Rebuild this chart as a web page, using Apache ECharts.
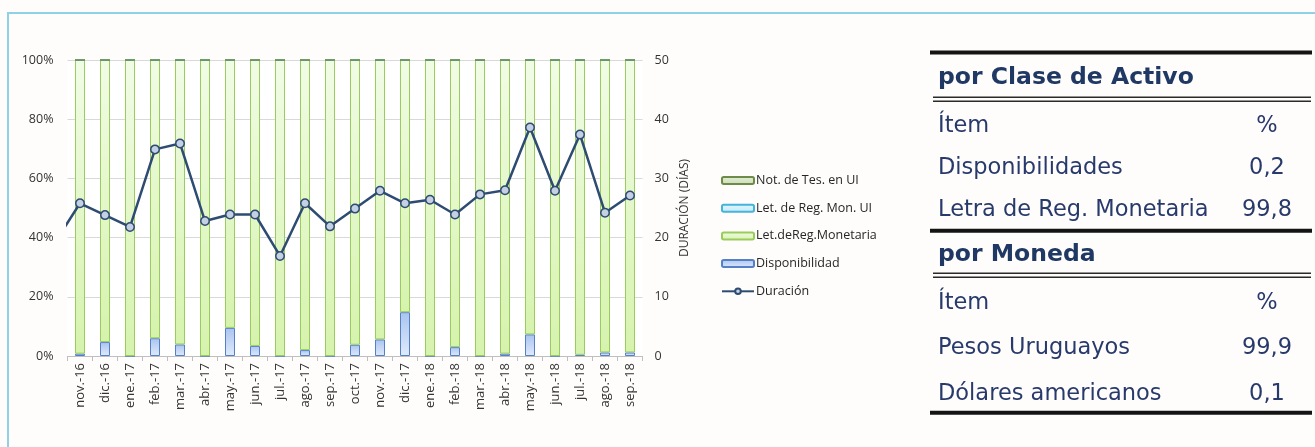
<!DOCTYPE html>
<html>
<head>
<meta charset="utf-8">
<script src="https://cdn.jsdelivr.net/npm/echarts@6/dist/echarts.min.js"></script>
<style>
  html, body { margin: 0; padding: 0; background: #fefdfb; }
  #chart { width: 1315px; height: 447px; }
</style>
</head>
<body>
<div id="chart"></div>
<script>
// Months shown on the category axis
const months = ['nov.-16','dic.-16','ene.-17','feb.-17','mar.-17','abr.-17','may.-17','jun.-17','jul.-17','ago.-17','sep.-17',
  'oct.-17','nov.-17','dic.-17','ene.-18','feb.-18','mar.-18','abr.-18','may.-18','jun.-18','jul.-18','ago.-18','sep.-18'];

// Portfolio composition (% of total) per month
const disponibilidad = [0.8,4.7,0,6.0,3.9,0,9.5,3.4,0,2.0,0,3.8,5.6,14.8,0,3.0,0,0.8,7.3,0,0.4,1.2,1.2];
const letRegMonetaria = disponibilidad.map(v => +(100 - v).toFixed(1));
const letRegMonUI = months.map(() => 0);
const notTesUI = months.map(() => 0);

// Duration in days (previous month oct.-16 enters the plot from the left edge)
const durationPrev = 19.2;
const duration = [25.8,23.8,21.8,34.9,35.9,22.8,23.9,23.9,16.9,25.8,21.9,24.9,27.9,25.8,26.4,23.9,27.3,28.0,38.6,27.9,37.4,24.2,27.1];

// Summary tables
const tableClase = [['Disponibilidades','0,2'],['Letra de Reg. Monetaria','99,8']];
const tableMoneda = [['Pesos Uruguayos','99,9'],['Dólares americanos','0,1']];

const FONT = '"Open Sans", "Noto Sans", sans-serif';
const TABLE_FONT = '"DejaVu Sans", "Noto Sans", sans-serif';
const chart = echarts.init(document.getElementById('chart'));

const grad = (top, bottom) => new echarts.graphic.LinearGradient(0, 0, 0, 1, [
  { offset: 0, color: top }, { offset: 1, color: bottom }
]);

const durationPoints = [[-0.5, durationPrev]].concat(duration.map((v, i) => [i + 0.5, v]));

// Table graphics
const TX = 938, VX = 1267, TEXT_COLOR = '#283a6c', HEAD_COLOR = '#1f3864';
function txt(x, y, text, opts) {
  return {
    type: 'text', x: x, y: y, silent: true,
    style: Object.assign({ text: text, font: '22.5px ' + TABLE_FONT, fill: TEXT_COLOR, textVerticalAlign: 'middle', textAlign: 'left' }, opts || {})
  };
}
function bar(y, h) {
  return { type: 'rect', silent: true, shape: { x: 930, y: y, width: 382, height: h }, style: { fill: '#141414' } };
}
function dbl(y) {
  return [
    { type: 'rect', silent: true, shape: { x: 933, y: y, width: 378, height: 1.6 }, style: { fill: '#2a2a2a' } },
    { type: 'rect', silent: true, shape: { x: 933, y: y + 4, width: 378, height: 1.6 }, style: { fill: '#2a2a2a' } }
  ];
}
function section(title, rows, titleY, lineY, headY, rowYs) {
  const g = [];
  g.push(txt(TX, titleY, title, { font: 'bold 23.5px ' + TABLE_FONT, fill: HEAD_COLOR }));
  g.push(...dbl(lineY));
  g.push(txt(TX, headY, 'Ítem'));
  g.push(txt(VX, headY, '%', { textAlign: 'center' }));
  rows.forEach((r, i) => {
    g.push(txt(TX, rowYs[i], r[0]));
    g.push(txt(VX, rowYs[i], r[1], { textAlign: 'center' }));
  });
  return g;
}

const graphics = [
  { type: 'rect', silent: true, z: -10, shape: { x: 8, y: 13, width: 1330, height: 460 },
    style: { fill: null, stroke: '#8fd2e6', lineWidth: 2 } },
  bar(50.5, 4),
  ...section('por Clase de Activo', tableClase, 78, 96.5, 126, [168, 210]),
  bar(228.7, 4),
  ...section('por Moneda', tableMoneda, 255, 272.5, 303, [348, 394]),
  bar(410.7, 4)
];

const option = {
  backgroundColor: '#fefdfb',
  animation: false,
  textStyle: { fontFamily: FONT },
  grid: { left: 67.5, right: 672.5, top: 60, bottom: 91, show: true, backgroundColor: '#ffffff', borderWidth: 0 },
  legend: {
    orient: 'vertical', left: 716, top: 169,
    itemWidth: 32, itemHeight: 7, itemGap: 14.7,
    textStyle: { fontSize: 12.5, color: '#262626', fontFamily: FONT, padding: [0, 0, 0, -3] },
    data: ['Not. de Tes. en UI', 'Let. de Reg. Mon. UI', 'Let.deReg.Monetaria', 'Disponibilidad', 'Duración']
  },
  xAxis: [
    {
      type: 'category', data: months,
      axisLine: { lineStyle: { color: '#bfbfbf' } },
      axisTick: { show: true, length: 5, lineStyle: { color: '#bfbfbf' } },
      axisLabel: { rotate: 90, fontSize: 13, color: '#333', margin: 7, fontFamily: FONT }
    },
    { type: 'value', min: 0, max: 23, show: false }
  ],
  yAxis: [
    {
      type: 'value', min: 0, max: 100, interval: 20,
      axisLabel: { formatter: '{value}%', fontSize: 12.5, color: '#333', margin: 14, fontFamily: FONT },
      axisLine: { show: false }, axisTick: { show: false },
      splitLine: { lineStyle: { color: '#d9d9d9' } }
    },
    {
      type: 'value', min: 0, max: 50, interval: 10, position: 'right',
      name: 'DURACIÓN (DÍAS)', nameLocation: 'middle', nameRotate: 90, nameGap: 36,
      nameTextStyle: { fontSize: 12, color: '#333', fontFamily: FONT },
      axisLabel: { fontSize: 12.5, color: '#333', margin: 12, fontFamily: FONT },
      axisLine: { show: false }, axisTick: { show: false }, splitLine: { show: false }
    }
  ],
  series: [
    {
      name: 'Disponibilidad', type: 'bar', stack: 'cartera', barWidth: 10, data: disponibilidad,
      itemStyle: { color: grad('#a9c4f0', '#e0eafb'), borderColor: '#5580c8', borderWidth: 1 }
    },
    {
      name: 'Let.deReg.Monetaria', type: 'bar', stack: 'cartera', barWidth: 10, data: letRegMonetaria,
      itemStyle: { color: grad('#f1fce6', '#d6f3ad'), borderColor: '#9bcb5e', borderWidth: 1 }
    },
    {
      name: 'Let. de Reg. Mon. UI', type: 'bar', stack: 'cartera', barWidth: 10, data: letRegMonUI,
      itemStyle: { color: grad('#e4f7fd', '#c2eaf9'), borderColor: '#45b3dc', borderWidth: 1 }
    },
    {
      name: 'Not. de Tes. en UI', type: 'bar', stack: 'cartera', barWidth: 10, data: notTesUI,
      itemStyle: { color: grad('#e5eedb', '#cbdcb5'), borderColor: '#6e8c48', borderWidth: 1 }
    },
    {
      name: 'Duración', type: 'line', xAxisIndex: 1, yAxisIndex: 1, data: durationPoints, clip: true,
      symbol: 'circle', symbolSize: 8.5, z: 5,
      lineStyle: { color: '#2e4b72', width: 2.5 },
      itemStyle: { color: '#c5d0e4', borderColor: '#2e4b72', borderWidth: 1.5 }
    }
  ],
  graphic: graphics
};

chart.setOption(option);
</script>
</body>
</html>
